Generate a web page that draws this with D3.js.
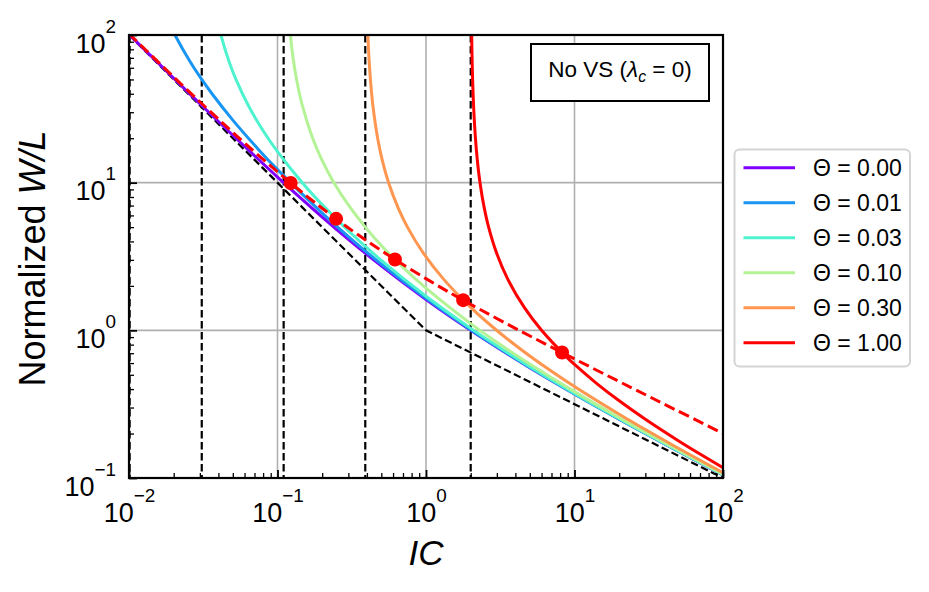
<!DOCTYPE html>
<html lang="en">
<head>
  <meta charset="UTF-8" />
  <title>Normalized W/L vs IC</title>
  <script src="https://d3js.org/d3.v7.min.js"></script>
  <style>
    body { margin: 0; padding: 0; background: #fff; }
    svg { display: block; font-family: "Liberation Sans", Arial, sans-serif; }
  </style>
</head>
<body>
  <svg width="929" height="592"></svg>

  <script>
  // ---- data: [IC, normalized W/L] ----
  const thetaLabels = ["Θ = 0.00", "Θ = 0.01", "Θ = 0.03", "Θ = 0.10", "Θ = 0.30", "Θ = 1.00"];

  const theta000 = [[0.01,101.0],[0.02,50.98],[0.03,34.31],[0.05,20.95],[0.1,10.92],[0.2,5.854],[0.3,4.139],
    [0.5,2.732],[1,1.618],[2,1.0],[3,0.7676],[5,0.5583],[10,0.3702],[20,0.25],[30,0.2],[50,0.1518],[100,0.1051]];
  const theta001 = [[0.01832,125],[0.0204,100],[0.02563,66.67],[0.03,52.22],[0.03623,40],[0.05,26.51],[0.0749,16.67],
    [0.1,12.25],[0.2,6.218],[0.3,4.317],[0.5,2.809],[1,1.645],[2,1.010],[3,0.7735],[5,0.5614],[10,0.3715],
    [20,0.2506],[30,0.2004],[50,0.1520],[100,0.1052]];
  const theta003 = [[0.03944,125],[0.0416,100],[0.04703,66.67],[0.0525,50],[0.0636,33.33],[0.08063,22.22],[0.1,16.23],
    [0.1469,10],[0.2,7.101],[0.3,4.725],[0.5,2.976],[1,1.701],[2,1.031],[3,0.7857],[5,0.5678],[10,0.3743],
    [20,0.2519],[30,0.2012],[50,0.1525],[100,0.1055]];
  const theta010 = [[0.1197,125],[0.1221,100],[0.1282,66.67],[0.1344,50],[0.1469,33.33],[0.1725,20],[0.1989,14.29],
    [0.24,10],[0.3,7.061],[0.4,4.849],[0.5,3.759],[0.7,2.669],[1,1.930],[2,1.111],[3,0.8314],[5,0.5913],[10,0.3844],
    [20,0.2564],[30,0.2041],[50,0.1541],[100,0.1062]];
  const theta030 = [[0.4029,125],[0.4061,100],[0.4142,66.67],[0.4224,50],[0.4389,33.33],[0.4725,20],[0.5069,14.29],
    [0.56,10],[0.6525,6.667],[0.75,5],[0.96,3.333],[1.3125,2.222],[2,1.429],[3,0.9972],[5,0.6706],[10,0.4164],
    [20,0.2703],[30,0.2128],[50,0.1590],[100,0.1086]];
  const theta100 = [[2.0241,125],[2.0301,100],[2.0452,66.67],[2.0604,50],[2.0909,33.33],[2.1525,20],[2.2149,14.29],
    [2.31,10],[2.4725,6.667],[2.64,5],[2.99,3.333],[3.5525,2.222],[4.59,1.429],[6,1],[8.75,0.6667],[10,0.5877],
    [14,0.4396],[20,0.3333],[30,0.25],[50,0.1789],[70,0.1453],[100,0.1175]];

  // optimum locus (red dashed) and its marked points
  const optimumLocus = [[0.00999,102.1],[0.01793,57.73],[0.0337,31.61],[0.0612,18.23],[0.1227,9.950],[0.1893,7.001],
    [0.2481,5.689],[0.3570,4.364],[0.6180,3.015],[1.1659,2.041],[1.7792,1.601],[3.2321,1.155],[8.2426,0.7071],
    [24.247,0.4082],[48.249,0.2887],[99.249,0.2010],[103.29,0.1970]];
  const optimumDots = [[0.1227,9.950],[0.2481,5.689],[0.6180,3.015],[1.7792,1.601],[8.2426,0.7071]];

  // weak / strong inversion asymptotes and the vertical IC limits
  const wiSiAsymptote = [[0.01,100],[1,1],[100,0.1]];
  const icLimits = [0.0101, 0.0309, 0.11, 0.39, 2.0];

  const xTickExps = [-2, -1, 0, 1, 2];
  const yTickExps = [-1, 0, 1, 2];

  const series = [theta000, theta001, theta003, theta010, theta030, theta100];
  const colors = ["#8000ff", "#1996f3", "#4df3ce", "#b3f396", "#ff964f", "#ff0000"];

  // ---- layout ----
  const L = 129, R = 723, T = 35, B = 478;
  const svg = d3.select("svg");

  const x = d3.scaleLog().domain([1e-2, 1e2]).range([L, R]);
  const y = d3.scaleLog().domain([1e-1, 1e2]).range([B, T]);

  svg.append("rect").attr("width", 929).attr("height", 592).attr("fill", "#fff");

  svg.append("defs").append("clipPath").attr("id", "plotclip")
    .append("rect").attr("x", L).attr("y", T).attr("width", R - L).attr("height", B - T);

  // grid
  const grid = svg.append("g").attr("stroke", "#b0b0b0").attr("stroke-width", 1.6);
  grid.selectAll(".gx").data(xTickExps.map(e => Math.pow(10, e))).enter().append("line")
    .attr("x1", d => x(d)).attr("x2", d => x(d)).attr("y1", T).attr("y2", B);
  grid.selectAll(".gy").data(yTickExps.map(e => Math.pow(10, e))).enter().append("line")
    .attr("y1", d => y(d)).attr("y2", d => y(d)).attr("x1", L).attr("x2", R);

  const plot = svg.append("g").attr("clip-path", "url(#plotclip)");
  const line = d3.line().x(d => x(d[0])).y(d => y(d[1]));
  const smooth = d3.line().x(d => x(d[0])).y(d => y(d[1])).curve(d3.curveCatmullRom.alpha(0.5));

  // vertical dashed IC limits
  plot.selectAll(".vlim").data(icLimits).enter().append("line")
    .attr("x1", d => x(d)).attr("x2", d => x(d)).attr("y1", T).attr("y2", B)
    .attr("stroke", "#000").attr("stroke-width", 2.2).attr("stroke-dasharray", "7.5,3.5");

  // asymptotes
  plot.append("path").datum(wiSiAsymptote).attr("d", line)
    .attr("fill", "none").attr("stroke", "#000").attr("stroke-width", 2.2).attr("stroke-dasharray", "7.5,3.5");

  // theta curves
  plot.selectAll(".curve").data(series).enter().append("path")
    .attr("d", smooth).attr("fill", "none")
    .attr("stroke", (d, i) => colors[i]).attr("stroke-width", 3);

  // optimum locus + dots
  plot.append("path").datum(optimumLocus).attr("d", smooth)
    .attr("fill", "none").attr("stroke", "#ff0000").attr("stroke-width", 3).attr("stroke-dasharray", "11,5");
  plot.selectAll(".dot").data(optimumDots).enter().append("circle")
    .attr("cx", d => x(d[0])).attr("cy", d => y(d[1])).attr("r", 7).attr("fill", "#ff0000");

  // ---- axes (ticks inward) ----
  function minorTicks(lo, hi) {
    const out = [];
    for (let e = lo; e < hi; e++) for (let k = 2; k <= 9; k++) out.push(k * Math.pow(10, e));
    return out;
  }
  function supLabel(sel) {
    sel.each(function(d) {
      const e = Math.round(Math.log10(d));
      const t = d3.select(this).text("10");
      t.append("tspan").attr("dy", -20).attr("font-size", "0.7em").text(e < 0 ? "\u2212" + (-e) : e);
    });
  }

  const gxMinor = svg.append("g").attr("transform", `translate(0,${B})`)
    .call(d3.axisBottom(x).tickValues(minorTicks(-2, 2)).tickSize(-5).tickFormat(""));
  const gx = svg.append("g").attr("transform", `translate(0,${B})`)
    .call(d3.axisBottom(x).tickValues(xTickExps.map(e => Math.pow(10, e))).tickSize(-8));
  const gyMinor = svg.append("g").attr("transform", `translate(${L},0)`)
    .call(d3.axisLeft(y).tickValues(minorTicks(-1, 2)).tickSize(-5).tickFormat(""));
  const gy = svg.append("g").attr("transform", `translate(${L},0)`)
    .call(d3.axisLeft(y).tickValues(yTickExps.map(e => Math.pow(10, e))).tickSize(-8));

  [gxMinor, gx, gyMinor, gy].forEach(g => {
    g.select(".domain").remove();
    g.attr("font-size", 27).attr("font-family", null);
  });
  gxMinor.selectAll("line").attr("stroke-width", 1.3);
  gyMinor.selectAll("line").attr("stroke-width", 1.3);
  gx.selectAll("line").attr("stroke-width", 1.8);
  gy.selectAll("line").attr("stroke-width", 1.8);

  gx.selectAll(".tick text").attr("y", 44).attr("dy", null).attr("fill", "#000").call(supLabel);
  gy.selectAll(".tick text").attr("x", -13).attr("y", 17).attr("dy", null).attr("fill", "#000").call(supLabel);

  // frame
  svg.append("rect").attr("x", L).attr("y", T).attr("width", R - L).attr("height", B - T)
    .attr("fill", "none").attr("stroke", "#000").attr("stroke-width", 2.2);

  // axis labels
  svg.append("text").attr("x", (L + R) / 2).attr("y", 565).attr("text-anchor", "middle")
    .attr("font-size", 35).attr("font-style", "italic").text("IC");
  const yl = svg.append("text").attr("transform", `translate(45,${(T + B) / 2 + 2}) rotate(-90)`)
    .attr("text-anchor", "middle").attr("font-size", 36);
  yl.append("tspan").text("Normalized ");
  yl.append("tspan").attr("font-style", "italic").text("W/L");

  // annotation box
  svg.append("rect").attr("x", 531).attr("y", 44).attr("width", 178).attr("height", 57)
    .attr("fill", "#fff").attr("stroke", "#000").attr("stroke-width", 2);
  const note = svg.append("text").attr("x", 620).attr("y", 77).attr("text-anchor", "middle").attr("font-size", 22.5);
  note.append("tspan").text("No VS (");
  note.append("tspan").attr("font-style", "italic").text("λ");
  note.append("tspan").attr("font-style", "italic").attr("font-size", "0.7em").attr("dy", 5).text("c");
  note.append("tspan").attr("dy", -5).text(" = 0)");

  // legend
  const lg = svg.append("g");
  lg.append("rect").attr("x", 734.5).attr("y", 149.5).attr("width", 175.5).attr("height", 217)
    .attr("rx", 5).attr("fill", "#fff").attr("stroke", "#d4d4d4").attr("stroke-width", 2);
  const rows = lg.selectAll(".row").data(thetaLabels).enter().append("g")
    .attr("transform", (d, i) => `translate(0,${167.7 + i * 35})`);
  rows.append("line").attr("x1", 743.5).attr("x2", 795).attr("stroke", (d, i) => colors[i]).attr("stroke-width", 3);
  rows.append("text").attr("x", 813).attr("y", 8.3).attr("font-size", 23).text(d => d);
  </script>
</body>
</html>
